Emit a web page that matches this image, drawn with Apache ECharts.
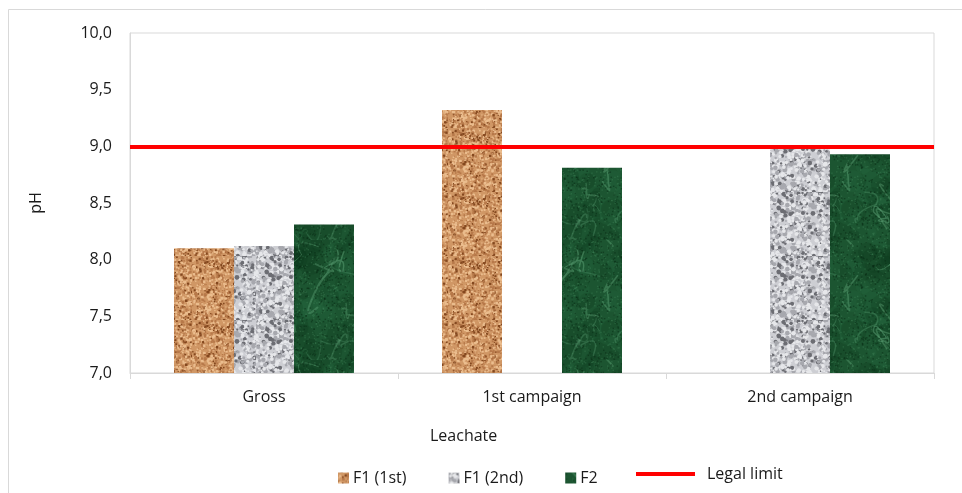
<!DOCTYPE html>
<html>
<head>
<meta charset="utf-8">
<script src="https://cdn.jsdelivr.net/npm/echarts@6/dist/echarts.min.js"></script>
<style>
  html, body { margin: 0; padding: 0; background: #ffffff; }
  #chart { width: 962px; height: 493px; }
</style>
</head>
<body>
<div id="chart"></div>
<script>
// pH of the leachate by sampling stage
const categories = ['Gross', '1st campaign', '2nd campaign'];
const seriesNames = ['F1 (1st)', 'F1 (2nd)', 'F2'];
const f1First = [8.10, 9.32, '-'];
const f1Second = [8.12, '-', 9.01];
const f2 = [8.31, 8.81, 8.93];
const legalLimitName = 'Legal limit';
const legalLimit = 9.0;
const yTicks = { min: 7, max: 10, interval: 0.5 };

const FONT = '"Open Sans", Lato, sans-serif';
const FONT_SIZE = 16;
const TEXT_COLOR = '#1a1a1a';

// Small seeded generator so the surface textures are repeatable
function prng(seed) {
  let s = seed >>> 0;
  return function () {
    s += 0x6D2B79F5;
    let t = s;
    t = Math.imul(t ^ (t >>> 15), t | 1);
    t ^= t + Math.imul(t ^ (t >>> 7), t | 61);
    return ((t ^ (t >>> 14)) >>> 0) / 4294967296;
  };
}

function makeCanvas(size) {
  const c = document.createElement('canvas');
  c.width = size; c.height = size;
  return c;
}

// Cork: tan base with fine light and dark brown grains
function corkTexture() {
  const c = makeCanvas(64), g = c.getContext('2d'), r = prng(11);
  g.fillStyle = '#d09765'; g.fillRect(0, 0, 64, 64);
  for (let i = 0; i < 1100; i++) {
    const x = r() * 64, y = r() * 64, s = 1 + r() * 1.6;
    const k = r();
    g.fillStyle = k < 0.45 ? '#ebbd8e' : (k < 0.82 ? '#b7794a' : '#84481f');
    g.fillRect(x, y, s, s);
  }
  return c;
}

// Granite: pale grey with soft darker speckles
function graniteTexture() {
  const c = makeCanvas(64), g = c.getContext('2d'), r = prng(23);
  g.fillStyle = '#cdced3'; g.fillRect(0, 0, 64, 64);
  for (let i = 0; i < 650; i++) {
    const x = r() * 64, y = r() * 64, s = 0.8 + r() * 1.6;
    const k = r();
    g.fillStyle = k < 0.4 ? '#e6e7ea' : (k < 0.78 ? '#a7a8ae' : '#6c6d73');
    g.beginPath(); g.arc(x, y, s, 0, Math.PI * 2); g.fill();
  }
  return c;
}

// Green marble: dark green, mottled, with soft curved lighter veins
function marbleTexture() {
  const c = makeCanvas(120), g = c.getContext('2d'), r = prng(37);
  g.fillStyle = '#1c5531'; g.fillRect(0, 0, 120, 120);
  for (let i = 0; i < 70; i++) {
    g.fillStyle = r() < 0.55 ? 'rgba(10,55,28,0.25)' : 'rgba(45,115,70,0.18)';
    g.beginPath(); g.arc(r() * 120, r() * 120, 4 + r() * 10, 0, Math.PI * 2); g.fill();
  }
  g.lineCap = 'round';
  for (let i = 0; i < 16; i++) {
    g.strokeStyle = 'rgba(105,175,130,' + (0.18 + r() * 0.25) + ')';
    g.lineWidth = 0.8 + r() * 1.6;
    g.beginPath();
    let x = r() * 120, y = r() * 120;
    g.moveTo(x, y);
    for (let j = 0; j < 3; j++) {
      const cx = x + (r() - 0.5) * 40, cy = y + (r() - 0.5) * 40;
      x += (r() - 0.5) * 40; y += (r() - 0.5) * 40;
      g.quadraticCurveTo(cx, cy, x, y);
    }
    g.stroke();
  }
  for (let i = 0; i < 1400; i++) {
    g.fillStyle = r() < 0.5 ? 'rgba(8,42,20,0.5)' : 'rgba(80,150,105,0.28)';
    g.fillRect(r() * 120, r() * 120, 1.4, 1.4);
  }
  return c;
}

const patterns = [
  { image: corkTexture(), repeat: 'repeat' },
  { image: graniteTexture(), repeat: 'repeat' },
  { image: marbleTexture(), repeat: 'repeat' }
];
const values = [f1First, f1Second, f2];

const chart = echarts.init(document.getElementById('chart'), null, { renderer: 'canvas' });

const barSeries = seriesNames.map((name, i) => ({
  name: name,
  type: 'bar',
  data: values[i],
  barWidth: 60,
  barGap: '0%',
  itemStyle: { color: patterns[i] },
  emphasis: { disabled: true }
}));

const textStyle = { fontFamily: FONT, fontSize: FONT_SIZE, color: TEXT_COLOR };

chart.setOption({
  animation: false,
  backgroundColor: '#ffffff',
  grid: {
    left: 130, right: 28, top: 33, bottom: 120,
    show: true, borderColor: '#d9d9d9', borderWidth: 1
  },
  graphic: [
    {
      type: 'rect', silent: true,
      shape: { x: 8.5, y: 9.5, width: 1100, height: 600 },
      style: { fill: 'none', stroke: '#d9d9d9', lineWidth: 1 }
    },
    {
      type: 'text', left: 430, top: 428, silent: true,
      style: { text: 'Leachate', font: FONT_SIZE + 'px ' + FONT, fill: TEXT_COLOR }
    }
  ],
  legend: [
    {
      data: seriesNames,
      left: 333, top: 465,
      itemWidth: 11, itemHeight: 11, itemGap: 42,
      icon: 'rect',
      textStyle: Object.assign({}, textStyle, { padding: [0, 0, 0, -1] })
    },
    {
      data: [{ name: legalLimitName, icon: 'rect' }],
      left: 631, top: 461,
      itemWidth: 59, itemHeight: 4,
      textStyle: Object.assign({}, textStyle, { padding: [0, 0, 0, 7] })
    }
  ],
  xAxis: {
    type: 'category',
    data: categories,
    axisLine: { show: true, lineStyle: { color: '#d9d9d9', width: 1 } },
    axisTick: { show: true, length: 6, alignWithLabel: false, lineStyle: { color: '#d9d9d9' } },
    axisLabel: Object.assign({}, textStyle, { margin: 16 }),
    splitLine: { show: false }
  },
  yAxis: {
    type: 'value',
    min: yTicks.min, max: yTicks.max, interval: yTicks.interval,
    name: 'pH',
    nameLocation: 'middle',
    nameGap: 86,
    nameTextStyle: textStyle,
    axisLine: { show: true, lineStyle: { color: '#d9d9d9' } },
    axisTick: { show: false },
    axisLabel: Object.assign({}, textStyle, {
      margin: 18,
      formatter: v => v.toFixed(1).replace('.', ',')
    }),
    splitLine: { show: false }
  },
  series: barSeries.concat([{
    name: legalLimitName,
    type: 'line',
    data: [],
    itemStyle: { color: '#ff0000' },
    lineStyle: { color: '#ff0000', width: 4 },
    markLine: {
      silent: true,
      symbol: ['none', 'none'],
      label: { show: false },
      lineStyle: { color: '#ff0000', width: 4, type: 'solid' },
      data: [{ yAxis: legalLimit }]
    }
  }])
});
</script>
</body>
</html>
